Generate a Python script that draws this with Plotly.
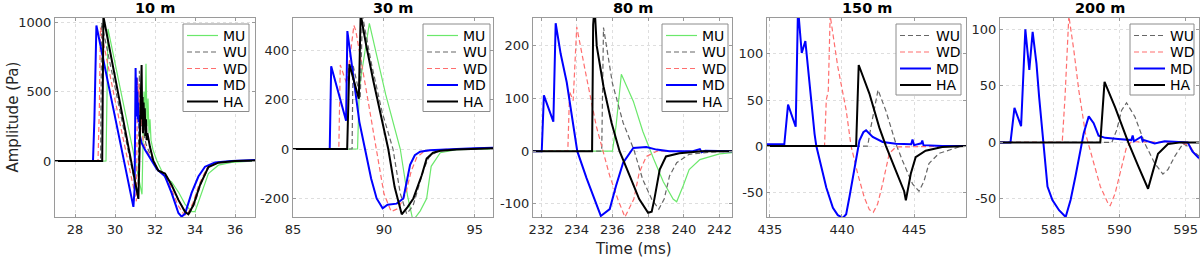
import plotly.graph_objects as go

# ---------------- data ----------------
# 10 m
T10_MU = [27, 29.55, 29.65, 30.3, 30.9, 31.35, 31.45, 31.5, 31.55, 31.6, 31.65, 31.7, 31.75, 31.8, 31.9, 32.1, 32.5, 32.83, 33.2, 33.5, 33.83, 34.0, 34.33, 34.67, 35.17, 35.83, 37]
V10_MU = [0, 0, 950, 490, 70, -240, 500, 300, 700, 250, 450, 200, 300, 150, 80, 0, -120, -150, -230, -310, -365, -365, -230, -90, -30, -10, 0]
T10_WU = [27, 29.28, 29.33, 30.0, 30.6, 31.15, 31.22, 31.26, 31.3, 31.33, 31.37, 31.4, 31.44, 31.48, 31.55, 31.9, 32.15, 32.5, 32.85, 33.2, 33.55, 33.7, 34.0, 34.3, 34.7, 35.2, 36, 37]
V10_WU = [0, 0, 995, 525, 100, -265, 650, 300, 500, 250, 400, 220, 300, 170, 120, 0, -65, -90, -180, -290, -370, -385, -300, -160, -40, -10, 0, 3]
T10_WD = [27, 29.15, 29.22, 29.27, 30.0, 30.6, 31.07, 31.13, 31.18, 31.2, 31.23, 31.26, 31.29, 31.32, 31.36, 31.4, 31.5, 31.85, 32.1, 32.45, 32.8, 33.15, 33.45, 33.6, 33.9, 34.2, 34.6, 35.1, 36, 37]
V10_WD = [0, 0, 400, 960, 440, 20, -290, 600, 300, 550, 280, 420, 250, 350, 200, 150, 100, 0, -60, -90, -190, -320, -385, -390, -300, -170, -50, -12, 0, 3]
T10_MD = [27, 28.9, 28.97, 29.07, 29.5, 30.0, 30.5, 30.92, 30.98, 31.03, 31.06, 31.08, 31.1, 31.12, 31.14, 31.16, 31.18, 31.21, 31.25, 31.33, 31.5, 31.83, 32.1, 32.5, 32.83, 33.17, 33.33, 33.5, 33.83, 34.17, 34.5, 35.0, 35.83, 37]
V10_MD = [0, 0, 300, 975, 670, 320, -30, -330, -200, 670, 320, 600, 350, 500, 300, 420, 280, 330, 180, 130, 80, 0, -60, -110, -230, -374, -400, -380, -230, -112, -41, -10, 0, 7]
T10_HA = [27, 29.36, 29.42, 29.9, 30.5, 31.17, 31.25, 31.33, 31.36, 31.38, 31.4, 31.43, 31.46, 31.49, 31.52, 31.55, 31.58, 31.62, 31.75, 31.92, 32.17, 32.5, 32.83, 33.17, 33.5, 33.67, 33.92, 34.25, 34.67, 35.17, 36.0, 37]
V10_HA = [0, 0, 1040, 680, 230, -273, 200, 690, 300, 460, 200, 420, 250, 380, 180, 300, 150, 200, 100, 0, -70, -90, -172, -280, -365, -383, -317, -173, -43, -12, 0, 3]

# 30 m
T30_MU = [85, 88.55, 88.65, 89.2, 89.6, 90.1, 90.9, 91.3, 91.6, 92.0, 92.35, 92.6, 93.1, 94, 96]
V30_MU = [0, 0, 250, 508, 380, 220, 0, -190, -290, -250, -200, -70, -15, -3, 0]
T30_WU = [85, 88.25, 88.3, 88.7, 88.82, 89.3, 89.9, 90.5, 90.9, 91.25, 91.6, 91.9, 92.2, 92.5, 93, 94, 96]
V30_WU = [0, 0, 340, 210, 540, 350, 150, 0, -180, -262, -230, -160, -80, -30, -8, -1, 3]
T30_WD = [85, 87.52, 87.6, 87.95, 88.35, 88.45, 89.0, 89.6, 90.0, 90.4, 90.8, 91.2, 91.5, 91.8, 92.2, 92.8, 94, 96]
V30_WD = [0, 0, 340, 265, 500, 480, 250, 0, -180, -253, -240, -180, -90, -35, -10, -3, 0, 3]
T30_MD = [85, 87.02, 87.1, 87.92, 87.99, 88.3, 88.65, 88.96, 89.3, 89.6, 89.93, 90.2, 90.7, 91.07, 91.3, 91.44, 91.7, 91.99, 92.5, 93.1, 94, 95, 96]
V30_MD = [0, 0, 335, 114, 477, 300, 110, 0, -120, -200, -240, -225, -221, -200, -120, -64, -25, -11, -5, -2, 0, 3, 5]
T30_HA = [85, 87.98, 88.1, 88.62, 88.72, 89.0, 89.42, 90.24, 90.59, 90.98, 91.3, 91.62, 92.08, 92.35, 92.7, 93.1, 94, 96]
V30_HA = [0, 0, 343, 203, 545, 430, 275, 0, -154, -264, -235, -200, -106, -39, -15, -7, -2, 3]

# 80 m
T80_MU = [231.5, 236.0, 236.2, 236.4, 236.5, 237.17, 237.7, 238.3, 238.85, 239.4, 239.6, 239.96, 240.3, 240.9, 242, 242.7]
V80_MU = [0, 0, 47, 123, 146, 95, 38, -14, -58, -91, -96, -66, -35, -16, -5, -3]
T80_WU = [231.5, 235.4, 235.5, 236.0, 236.6, 237.2, 237.7, 238.2, 238.6, 238.9, 239.2, 239.6, 240.3, 241.4, 242.7]
V80_WU = [0, 0, 235, 129, 54, 3, -54, -91, -110, -91, -47, -22, -6, -2, 0]
T80_WD = [231.5, 233.5, 233.6, 233.8, 234.0, 234.2, 234.55, 235.1, 235.5, 235.85, 236.3, 236.7, 237.2, 237.5, 237.9, 238.5, 242.7]
V80_WD = [0, 0, 113, 96, 236, 200, 140, 47, -3, -47, -91, -125, -91, -41, -10, 0, 0]
T80_MD = [231.5, 232.04, 232.16, 232.69, 232.82, 233.1, 233.44, 233.75, 234.03, 234.55, 235.1, 235.35, 235.85, 236.2, 236.6, 237.17, 237.9, 238.47, 239.2, 240.5, 240.9, 241.0, 241.2, 242.7]
V80_MD = [0, 0, 106, 56, 243, 185, 131, 65, 0, -51, -103, -123, -110, -66, -22, 6, 8, 3, 0, 0, 4, -2, 1, 0]
T80_HA = [231.5, 234.86, 234.92, 235.0, 235.12, 235.5, 235.95, 236.4, 236.97, 237.5, 238.0, 238.2, 238.35, 238.65, 239.0, 239.75, 241, 242.7]
V80_HA = [0, 0, 240, 275, 200, 123, 54, 0, -47, -91, -117, -115, -91, -35, -10, -4, 0, 0]

# 150 m
T150_WU = [434.8, 441.78, 442.01, 442.36, 442.5, 443.05, 443.74, 444.2, 444.89, 445.34, 445.69, 446.03, 446.72, 448.1, 448.6]
V150_WU = [0, 0, 21, 53, 61, 38, 2.5, -16, -41, -49, -38, -19, -8, -1, 0]
T150_WD = [434.8, 438.79, 438.91, 439.05, 439.18, 439.71, 440.29, 440.63, 441.09, 441.55, 441.9, 442.17, 442.47, 442.82, 443.28, 443.74, 448.6]
V150_WD = [0, 0, 50, 60, 142, 86, 39, 0, -30, -56, -69, -72, -63, -41, -8, -1, 0]
T150_MD = [434.8, 436.0, 436.26, 436.79, 436.95, 437.21, 437.46, 437.76, 438.1, 438.22, 438.56, 438.91, 439.37, 439.71, 440.06, 440.29, 440.52, 440.86, 441.21, 441.48, 441.67, 442.13, 442.82, 443.74, 444.8, 444.89, 445.0, 445.5, 445.57, 445.65, 446.95, 448.6]
V150_MD = [2, 2, 45, 21, 150, 101, 114, 64, 13, 0, -23, -45, -67, -75, -78, -74, -55, -23, 6, 15, 17, 10, 4.4, 2.5, 2, 7, 1, 3, 6, 1, 0, 0]
T150_HA = [434.8, 440.98, 441.16, 441.9, 442.59, 443.05, 443.74, 444.31, 444.43, 444.77, 445.11, 445.8, 446.95, 448.6]
V150_HA = [0, 0, 88, 57, 20, 0, -27, -49, -59, -30, -12, -5, -1, 0]

# 200 m
T200_WU = [581, 589.43, 589.8, 590.17, 590.54, 591.17, 591.92, 592.66, 593.28, 593.66, 594.16, 594.8, 595.2, 596]
V200_WU = [0, 0, 11, 28.5, 35, 22.6, -1, -18.5, -28, -24, -12.6, -1, -4, -12]
T200_WD = [581, 585.69, 585.9, 586.19, 586.57, 586.94, 587.44, 587.93, 588.56, 589.18, 589.31, 589.68, 590.17, 590.54, 590.92, 592.66, 594.65, 595.3, 596]
V200_WD = [0, 0, 40, 112, 81, 46, 8, -12.6, -39, -55, -56, -45, -21, -4, 0.6, 0.6, 0, -3, -15]
T200_MD = [581, 581.79, 582.09, 582.59, 582.91, 583.21, 583.46, 583.75, 583.95, 584.25, 584.58, 584.95, 585.45, 585.95, 586.32, 586.69, 587.07, 587.31, 587.69, 588.06, 588.43, 588.93, 589.9, 590.9, 591.0, 591.1, 591.65, 591.75, 591.85, 592.66, 593.41, 594.5, 595.15, 595.5, 596]
V200_MD = [0, 0, 30.5, 14.4, 100, 64, 97.7, 69.7, 40, 0, -39, -51, -60, -66, -51, -30, -7, 8, 23, 17, 6, 4, 3, 2, 6, 1, 5, 1, 2, -1, 1, 0, 0, -8, -14]
T200_HA = [581, 588.56, 588.88, 589.68, 590.42, 590.67, 591.42, 591.92, 592.16, 592.54, 592.91, 593.66, 594.65, 596]
V200_HA = [0, 0, 53.5, 31, 7.7, 0, -21, -35, -41, -25, -10, -1.5, 0, 0]

TITLES = ["10 m", "30 m", "80 m", "150 m", "200 m"]
X_RANGES = [[27, 37], [85, 96], [231.55, 242.7], [434.8, 448.6], [581.0, 596.0]]
Y_RANGES = [[-403, 1029], [-275, 530], [-125, 253], [-77, 139], [-66, 110]]
X_TICKS = [[28, 30, 32, 34, 36], [85, 90, 95], [232, 234, 236, 238, 240, 242], [435, 440, 445], [585, 590, 595]]
Y_TICKS = [[0, 500, 1000], [-200, 0, 200, 400], [-100, 0, 100, 200], [-50, 0, 50, 100], [-50, 0, 50, 100]]

PANELS = [
    [("MU", T10_MU, V10_MU), ("WU", T10_WU, V10_WU), ("WD", T10_WD, V10_WD), ("MD", T10_MD, V10_MD), ("HA", T10_HA, V10_HA)],
    [("MU", T30_MU, V30_MU), ("WU", T30_WU, V30_WU), ("WD", T30_WD, V30_WD), ("MD", T30_MD, V30_MD), ("HA", T30_HA, V30_HA)],
    [("MU", T80_MU, V80_MU), ("WU", T80_WU, V80_WU), ("WD", T80_WD, V80_WD), ("MD", T80_MD, V80_MD), ("HA", T80_HA, V80_HA)],
    [("WU", T150_WU, V150_WU), ("WD", T150_WD, V150_WD), ("MD", T150_MD, V150_MD), ("HA", T150_HA, V150_HA)],
    [("WU", T200_WU, V200_WU), ("WD", T200_WD, V200_WD), ("MD", T200_MD, V200_MD), ("HA", T200_HA, V200_HA)],
]

# ---------------- styling ----------------
W, H = 1200, 263
STYLE = {
    "MU": dict(color="#6be86b", width=1.2),
    "WU": dict(color="#666666", width=1.2, dash="5px,3px"),
    "WD": dict(color="#ff6e6e", width=1.2, dash="5px,3px"),
    "MD": dict(color="#0000ff", width=2),
    "HA": dict(color="#000000", width=2),
}
PX_LEFT = [55, 293, 533, 767, 1000]
PX_RIGHT = [255, 493, 732, 966, 1199]
PX_TOP, PX_BOT = 18, 217
LEG_LEFT = [183, 423, 662, 896, 1130]
LEG_RIGHT = [249, 490, 728, 961, 1194]
LEG_TOP = 24
LEG_ROW0, LEG_STEP = 35.5, 16.5
FONT = "DejaVu Sans"
TXT = "#262626"
AXC = "#9a9a9a"


def px(x):
    return x / W


def py(y):
    return 1 - y / H


fig = go.Figure()
layout = dict(
    width=W, height=H, margin=dict(l=0, r=0, t=0, b=0, autoexpand=False),
    paper_bgcolor="white", plot_bgcolor="white",
    font=dict(family=FONT, size=13, color=TXT),
    showlegend=False, annotations=[], shapes=[],
)

for i, series in enumerate(PANELS):
    n = i + 1
    xa = "x" if n == 1 else f"x{n}"
    ya = "y" if n == 1 else f"y{n}"
    for name, t, v in series:
        fig.add_trace(go.Scatter(
            x=t, y=v, mode="lines", name=name, line=STYLE[name],
            xaxis=xa, yaxis=ya, showlegend=False,
        ))
    axis_common = dict(
        showline=True, linecolor=AXC, linewidth=1, mirror="ticks",
        ticks="inside", ticklen=3, tickcolor=AXC,
        showgrid=True, gridcolor="#dedede", griddash="dot", gridwidth=1,
        zeroline=False, tickfont=dict(family=FONT, size=13, color=TXT),
        automargin=False,
    )
    layout[f"xaxis{'' if n == 1 else n}"] = dict(
        axis_common, domain=[px(PX_LEFT[i]), px(PX_RIGHT[i])],
        range=X_RANGES[i], tickvals=X_TICKS[i], ticktext=[str(v) for v in X_TICKS[i]],
        anchor=ya,
    )
    layout[f"yaxis{'' if n == 1 else n}"] = dict(
        axis_common, domain=[py(PX_BOT), py(PX_TOP)],
        range=Y_RANGES[i], tickvals=Y_TICKS[i], ticktext=[str(v) for v in Y_TICKS[i]],
        anchor=xa,
    )
    # panel title
    layout["annotations"].append(dict(
        text=f"<b>{TITLES[i]}</b>", x=px((PX_LEFT[i] + PX_RIGHT[i]) / 2), y=py(8),
        xref="paper", yref="paper", xanchor="center", yanchor="middle",
        showarrow=False, font=dict(family=FONT, size=14.5, color="#000000"),
    ))
    # legend box (drawn in paper space)
    nrow = len(series)
    bottom = LEG_ROW0 + LEG_STEP * (nrow - 1) + 10
    layout["shapes"].append(dict(
        type="rect", xref="paper", yref="paper",
        x0=px(LEG_LEFT[i]), x1=px(LEG_RIGHT[i]), y0=py(bottom), y1=py(LEG_TOP),
        line=dict(color="#8c8c8c", width=1), fillcolor="white", layer="above",
    ))
    for k, (name, _, _) in enumerate(series):
        yy = LEG_ROW0 + LEG_STEP * k
        st = STYLE[name]
        layout["shapes"].append(dict(
            type="line", xref="paper", yref="paper",
            x0=px(LEG_LEFT[i] + 4), x1=px(LEG_LEFT[i] + 35), y0=py(yy), y1=py(yy),
            line=dict(color=st["color"], width=st["width"], dash=st.get("dash", "solid")),
            layer="above",
        ))
        layout["annotations"].append(dict(
            text=name, x=px(LEG_LEFT[i] + 38), y=py(yy), xref="paper", yref="paper",
            xanchor="left", yanchor="middle", showarrow=False,
            font=dict(family=FONT, size=14, color="#000000"),
        ))

layout["annotations"].append(dict(
    text="Amplitude (Pa)", x=px(12), y=py(117.5), xref="paper", yref="paper",
    xanchor="center", yanchor="middle", textangle=-90, showarrow=False,
    font=dict(family=FONT, size=15, color=TXT),
))
layout["annotations"].append(dict(
    text="Time (ms)", x=px(633), y=py(249), xref="paper", yref="paper",
    xanchor="center", yanchor="middle", showarrow=False,
    font=dict(family=FONT, size=15, color=TXT),
))

fig.update_layout(**layout)
fig.write_html(
    "out.html",
    config={"displayModeBar": False},
    post_script="document.body.style.margin='0';document.body.style.overflow='hidden';",
)
